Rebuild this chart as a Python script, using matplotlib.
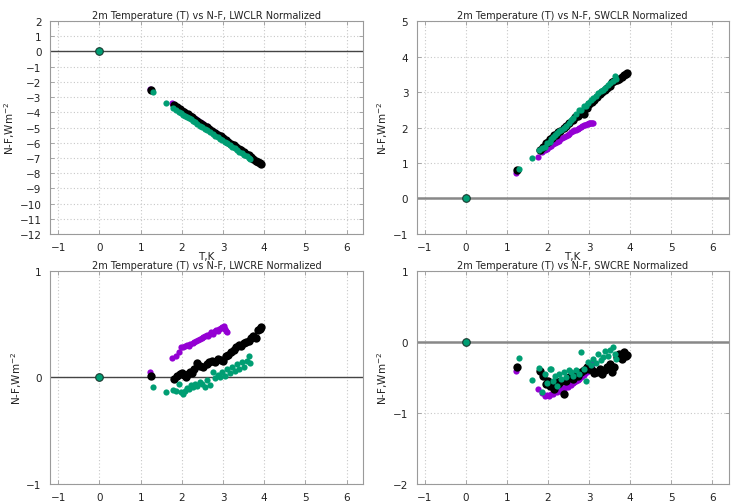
import matplotlib
matplotlib.use("Agg")
import matplotlib.pyplot as plt

# gnuplot-like palette
PURPLE, BLACK, GREEN = "#9400d3", "#000000", "#009e73"
GRID, FRAME, ZLINE = "#c8c8c8", "#9a9a9a", "#444444"

plt.rcParams.update({
    "font.family": "DejaVu Sans", "font.size": 7.5,
    "axes.edgecolor": FRAME, "axes.linewidth": 0.8,
    "xtick.color": FRAME, "ytick.color": FRAME,
    "xtick.labelcolor": "#222222", "ytick.labelcolor": "#222222",
})

# ---------------------------------------------------------------- data
x_purple = [1.22, 1.75, 1.85, 1.92, 1.98, 2.03, 2.08, 2.12, 2.17, 2.21, 2.26, 2.30,
            2.35, 2.39, 2.43, 2.48, 2.52, 2.56, 2.60, 2.64, 2.68, 2.72, 2.76, 2.80,
            2.84, 2.87, 2.91, 2.94, 2.97, 3.00, 3.03, 3.05, 3.08, 3.10]
x_black = [1.25, 1.80, 1.88, 1.95, 2.00, 2.05, 2.10, 2.15, 2.20, 2.25, 2.30, 2.38,
           2.45, 2.52, 2.60, 2.67, 2.74, 2.80, 2.87, 2.94, 3.00, 3.07, 3.13, 3.20,
           3.26, 3.32, 3.38, 3.44, 3.50, 3.56, 3.62, 3.68, 3.74, 3.80, 3.85, 3.90, 3.93]
x_green = [1.30, 1.62, 1.78, 1.85, 1.92, 1.98, 2.04, 2.08, 2.12, 2.17, 2.22, 2.27,
           2.32, 2.38, 2.44, 2.50, 2.56, 2.62, 2.68, 2.75, 2.81, 2.87, 2.93, 2.98,
           3.04, 3.10, 3.16, 3.22, 3.28, 3.34, 3.40, 3.46, 3.52, 3.58, 3.63, 3.66]

lwclr_purple = [-2.44, -3.40, -3.58, -3.72, -3.80, -3.91, -3.98, -4.09, -4.15, -4.24, -4.30, -4.41,
                -4.47, -4.56, -4.62, -4.71, -4.78, -4.87, -4.92, -5.02, -5.07, -5.16, -5.22, -5.31,
                -5.36, -5.44, -5.49, -5.56, -5.60, -5.67, -5.71, -5.77, -5.80, -5.85]
lwclr_black = [-2.50, -3.52, -3.66, -3.78, -3.90, -3.96, -4.08, -4.14, -4.26, -4.33, -4.43, -4.58,
               -4.70, -4.85, -4.97, -5.11, -5.24, -5.33, -5.48, -5.58, -5.71, -5.83, -5.94, -6.07,
               -6.18, -6.28, -6.41, -6.50, -6.63, -6.73, -6.84, -6.96, -7.06, -7.17, -7.26, -7.35, -7.40]
lwclr_green = [-2.65, -3.40, -3.70, -3.83, -3.95, -4.06, -4.17, -4.22, -4.30, -4.40, -4.47, -4.57,
               -4.66, -4.76, -4.87, -4.98, -5.08, -5.19, -5.30, -5.42, -5.54, -5.63, -5.75, -5.84,
               -5.94, -6.05, -6.15, -6.26, -6.37, -6.48, -6.58, -6.69, -6.80, -6.90, -6.99, -7.05]

swclr_purple = [0.72, 1.18, 1.30, 1.36, 1.40, 1.45, 1.48, 1.53, 1.56, 1.60, 1.63, 1.67,
                1.70, 1.74, 1.76, 1.80, 1.83, 1.86, 1.89, 1.92, 1.94, 1.97, 1.99, 2.02,
                2.04, 2.06, 2.08, 2.09, 2.11, 2.12, 2.13, 2.13, 2.12, 2.13]
swclr_black = [0.80, 1.38, 1.45, 1.55, 1.58, 1.68, 1.70, 1.78, 1.80, 1.88, 1.90, 2.00,
               2.05, 2.12, 2.20, 2.30, 2.32, 2.45, 2.38, 2.55, 2.65, 2.72, 2.78, 2.85,
               2.95, 3.00, 3.05, 3.10, 3.18, 3.28, 3.30, 3.35, 3.38, 3.42, 3.48, 3.52, 3.55]
swclr_green = [0.83, 1.13, 1.38, 1.42, 1.45, 1.55, 1.60, 1.68, 1.72, 1.78, 1.85, 1.90,
               1.92, 2.00, 2.05, 2.12, 2.20, 2.28, 2.38, 2.48, 2.50, 2.60, 2.62, 2.70,
               2.78, 2.82, 2.88, 2.98, 3.02, 3.05, 3.12, 3.20, 3.25, 3.30, 3.45, 3.38]

lwcre_purple = [0.05, 0.18, 0.20, 0.24, 0.28, 0.28, 0.29, 0.30, 0.29, 0.31, 0.32, 0.33,
                0.34, 0.35, 0.36, 0.37, 0.38, 0.39, 0.40, 0.39, 0.41, 0.42, 0.41, 0.43,
                0.44, 0.43, 0.45, 0.46, 0.47, 0.46, 0.48, 0.45, 0.43, 0.42]
lwcre_black = [0.01, -0.02, 0.01, 0.03, 0.04, 0.02, 0.00, 0.03, 0.05, 0.04, 0.08, 0.13,
               0.11, 0.10, 0.12, 0.14, 0.15, 0.14, 0.17, 0.16, 0.15, 0.20, 0.21, 0.24,
               0.26, 0.28, 0.30, 0.29, 0.32, 0.33, 0.34, 0.37, 0.39, 0.37, 0.44, 0.45, 0.47]
lwcre_green = [-0.09, -0.14, -0.12, -0.13, -0.06, -0.14, -0.16, -0.13, -0.10, -0.11, -0.07, -0.09,
               -0.06, -0.08, -0.04, -0.06, -0.09, -0.03, -0.07, 0.05, -0.01, 0.02, 0.00, 0.05,
               0.01, 0.08, 0.04, 0.10, 0.06, 0.12, 0.08, 0.14, 0.10, 0.15, 0.20, 0.13]

swcre_purple = [-0.41, -0.67, -0.72, -0.77, -0.75, -0.76, -0.73, -0.74, -0.70, -0.71, -0.68, -0.69,
                -0.65, -0.66, -0.62, -0.63, -0.60, -0.61, -0.58, -0.57, -0.55, -0.54, -0.52, -0.50,
                -0.48, -0.47, -0.44, -0.43, -0.40, -0.38, -0.36, -0.34, -0.32, -0.30]
swcre_black = [-0.35, -0.41, -0.48, -0.60, -0.55, -0.62, -0.58, -0.66, -0.55, -0.60, -0.57, -0.73,
               -0.55, -0.50, -0.52, -0.45, -0.48, -0.42, -0.40, -0.36, -0.38, -0.40, -0.44, -0.42,
               -0.38, -0.45, -0.40, -0.35, -0.32, -0.42, -0.36, -0.22, -0.18, -0.25, -0.15, -0.20, -0.19]
swcre_green = [-0.23, -0.54, -0.37, -0.71, -0.46, -0.58, -0.39, -0.38, -0.55, -0.48, -0.62, -0.45,
               -0.52, -0.43, -0.50, -0.40, -0.42, -0.48, -0.40, -0.45, -0.15, -0.38, -0.55, -0.28,
               -0.33, -0.25, -0.30, -0.17, -0.26, -0.22, -0.13, -0.20, -0.12, -0.07, -0.18, -0.24]

PANELS = [
    ("LWCLR", lwclr_purple, lwclr_black, lwclr_green, (-12, 2), range(-12, 3)),
    ("SWCLR", swclr_purple, swclr_black, swclr_green, (-1, 5), range(-1, 6)),
    ("LWCRE", lwcre_purple, lwcre_black, lwcre_green, (-1, 1), range(-1, 2)),
    ("SWCRE", swcre_purple, swcre_black, swcre_green, (-2, 1), range(-2, 2)),
]
# axes boxes in figure fractions (left, bottom, width, height)
BOXES = [(0.0676, 0.532, 0.4230, 0.424), (0.5630, 0.532, 0.4216, 0.424),
         (0.0676, 0.034, 0.4230, 0.425), (0.5630, 0.034, 0.4216, 0.425)]

fig = plt.figure(figsize=(7.4, 5.02), dpi=100)
for i, ((name, yp, yb, yg, ylim, yt), box) in enumerate(zip(PANELS, BOXES)):
    ax = fig.add_axes(box)
    right = i % 2 == 1
    ax.axhline(0, color="#888888" if right else ZLINE, lw=1.8 if right else 1.0, zorder=2)
    ax.scatter(x_purple, yp, s=20, color=PURPLE, lw=0, zorder=3)
    ax.scatter(x_black, yb, s=36, color=BLACK, lw=0, zorder=4)
    ax.scatter(x_green, yg, s=20, color=GREEN, lw=0, zorder=5)
    ax.scatter([0], [0], s=30, color=GREEN, edgecolor="#1a3a30", lw=0.8, zorder=6)
    ax.set_xlim(-1.2, 6.4)
    ax.set_ylim(*ylim)
    ax.set_xticks(range(-1, 7))
    ax.set_yticks(list(yt))
    ax.grid(True, color=GRID, lw=0.8, ls=(0, (1, 2)))
    ax.set_axisbelow(True)
    ax.tick_params(direction="in", length=3, width=0.6, top=True, right=True, pad=6)
    ax.set_title(f"2m Temperature (T) vs N-F, {name} Normalized", fontsize=7, pad=2,
                 color="#222222")
    ax.set_xlabel("T,K", labelpad=-1, color="#222222")
    ax.set_ylabel("N-F,Wm$^{-2}$", labelpad=2, color="#222222")

fig.savefig("out.png", dpi=100)
